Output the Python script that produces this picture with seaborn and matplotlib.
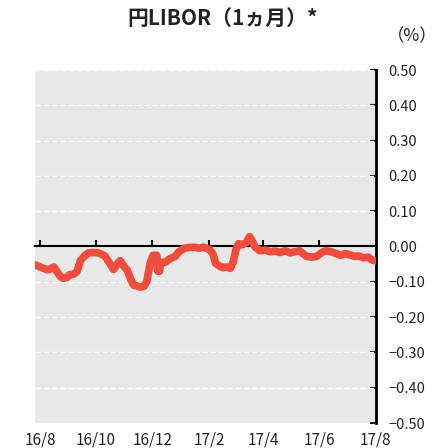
import matplotlib
matplotlib.use("Agg")
import matplotlib.pyplot as plt
import seaborn as sns
import pandas as pd
from datetime import datetime

# ---- data ----
dates = [
    "2016-07-27", "2016-08-01", "2016-08-05", "2016-08-09", "2016-08-12", "2016-08-16",
    "2016-08-19", "2016-08-23", "2016-08-26", "2016-08-30", "2016-09-02", "2016-09-07",
    "2016-09-10", "2016-09-14", "2016-09-19", "2016-09-23", "2016-09-28", "2016-10-03",
    "2016-10-07", "2016-10-11", "2016-10-15", "2016-10-20", "2016-10-24", "2016-10-27",
    "2016-10-31", "2016-11-04", "2016-11-08", "2016-11-11", "2016-11-15", "2016-11-18",
    "2016-11-22", "2016-11-25", "2016-11-29", "2016-12-02", "2016-12-06", "2016-12-07",
    "2016-12-09", "2016-12-10", "2016-12-15", "2016-12-20", "2016-12-26", "2016-12-30",
    "2017-01-05", "2017-01-10", "2017-01-16", "2017-01-21", "2017-01-26", "2017-02-01",
    "2017-02-05", "2017-02-08", "2017-02-12", "2017-02-16", "2017-02-20", "2017-02-24",
    "2017-02-27", "2017-03-02", "2017-03-05", "2017-03-09", "2017-03-13", "2017-03-17",
    "2017-03-20", "2017-03-23", "2017-03-28", "2017-04-03", "2017-04-08", "2017-04-14",
    "2017-04-19", "2017-04-25", "2017-04-30", "2017-05-05", "2017-05-10", "2017-05-14",
    "2017-05-18", "2017-05-24", "2017-05-29", "2017-06-03", "2017-06-08", "2017-06-14",
    "2017-06-19", "2017-06-24", "2017-06-29", "2017-07-04", "2017-07-09", "2017-07-14",
    "2017-07-19", "2017-07-24", "2017-07-28", "2017-08-01",
]
libor = [
    -0.052, -0.058, -0.062, -0.066, -0.064, -0.058,
    -0.070, -0.085, -0.090, -0.088, -0.080, -0.078,
    -0.072, -0.040, -0.025, -0.018, -0.017, -0.018,
    -0.022, -0.028, -0.045, -0.065, -0.050, -0.040,
    -0.055, -0.068, -0.095, -0.110, -0.112, -0.115,
    -0.113, -0.100, -0.045, -0.025, -0.025, -0.070,
    -0.070, -0.045, -0.045, -0.035, -0.028, -0.015,
    -0.005, -0.003, -0.002, -0.005, -0.002, -0.008,
    -0.020, -0.048, -0.055, -0.060, -0.058, -0.062,
    -0.045, -0.010, 0.008, 0.005, 0.010, 0.028,
    0.015, -0.002, -0.012, -0.010, -0.015, -0.013,
    -0.017, -0.012, -0.018, -0.015, -0.012, -0.020,
    -0.028, -0.030, -0.028, -0.018, -0.012, -0.015,
    -0.020, -0.025, -0.020, -0.024, -0.028, -0.027,
    -0.032, -0.030, -0.038, -0.040,
]
x_tick_dates = ["2016-08-01", "2016-10-01", "2016-12-01", "2017-02-01",
                "2017-04-01", "2017-06-01", "2017-08-01"]
x_tick_labels = ["16/8", "16/10", "16/12", "17/2", "17/4", "17/6", "17/8"]
y_ticks = [0.5, 0.4, 0.3, 0.2, 0.1, 0.0, -0.1, -0.2, -0.3, -0.4, -0.5]
y_tick_labels = ["0.50", "0.40", "0.30", "0.20", "0.10", "0.00",
                 "\u22120.10", "\u22120.20", "\u22120.30", "\u22120.40", "\u22120.50"]
title = "円LIBOR（1ヵ月）*"
unit = "（%）"

df = pd.DataFrame({"date": pd.to_datetime(dates), "value": libor})

sns.set_theme(style="white")
plt.rcParams["font.family"] = ["Noto Sans CJK JP", "DejaVu Sans"]
plt.rcParams["axes.unicode_minus"] = True

fig = plt.figure(figsize=(4.46, 4.48), dpi=100)
ax = fig.add_axes([35 / 446, 1 - 423 / 448, (376 - 35) / 446, (423 - 70) / 448])
ax.set_facecolor("#e8e8e8")

# grid lines (white dashed)
for yv in y_ticks:
    if yv != 0.0:
        ax.axhline(yv, color="white", lw=1.0, ls=(0, (4, 2)), zorder=1)

sns.lineplot(data=df, x="date", y="value", ax=ax, color="#f24c3c", lw=5.5,
             zorder=3, solid_capstyle="round", solid_joinstyle="round")

ax.set_xlim(datetime(2016, 7, 26, 12), datetime(2017, 8, 1, 12))
ax.set_ylim(-0.5, 0.5)
ax.set_xlabel("")
ax.set_ylabel("")

# spines
for s in ["left", "top"]:
    ax.spines[s].set_visible(False)
ax.spines["right"].set_color("black")
ax.spines["right"].set_linewidth(2)
ax.spines["bottom"].set_position(("data", 0))
ax.spines["bottom"].set_color("black")
ax.spines["bottom"].set_linewidth(1.5)
ax.spines["bottom"].set_zorder(2)

# y axis on right
ax.yaxis.tick_right()
ax.set_yticks(y_ticks)
ax.set_yticklabels(y_tick_labels)
ax.tick_params(axis="y", which="major", right=True, left=False, direction="in",
               length=4, width=1.5, color="black",
               pad=9, labelsize=10.5, labelcolor="#222222")

# x ticks on the zero line, labels at bottom
xt = pd.to_datetime(x_tick_dates)
ax.set_xticks(xt)
ax.set_xticklabels([])
ax.tick_params(axis="x", which="major", bottom=True, direction="in", length=4,
               width=1.5, color="black", labelbottom=False)

sec = ax.secondary_xaxis(0.0)
sec.set_xticks(xt)
sec.set_xticklabels(x_tick_labels)
sec.tick_params(length=0, pad=6, labelsize=11, labelcolor="#222222")
sec.spines["bottom"].set_visible(False)

fig.text(0.5, 1 - 18 / 448, title, ha="center", va="center",
         fontsize=15, fontweight="bold", color="#222222")
fig.text(412 / 446, 1 - 36 / 448, unit, ha="center", va="center",
         fontsize=12.5, color="#222222")

fig.savefig("out.png", dpi=100)
